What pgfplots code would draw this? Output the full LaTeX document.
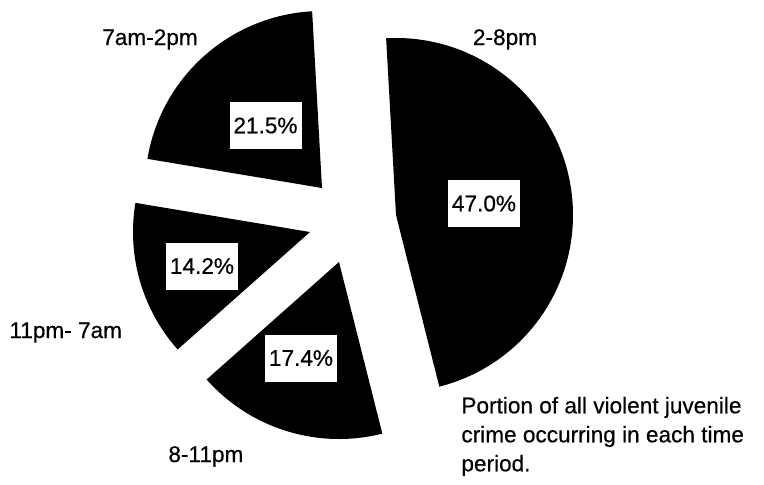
\documentclass[border=0pt]{standalone}
\usepackage{fontspec}
\setmainfont{Liberation Sans}[FakeBold=0.5]
\usepackage{pgfplots}
\usepackage{pgfplotstable}
\pgfplotsset{compat=1.18}

% value = share in percent, ax/ay = tip of the (exploded) slice, in picture units
\pgfplotstableread{
value ax  ay
47.0  396 269
17.4  339 222
14.2  310 252
21.5  322 296
}\piedata

\newcommand{\lbl}{\fontsize{11.3}{14.5}\selectfont}

\begin{document}
\begin{tikzpicture}
\begin{axis}[
    scale only axis,
    width=382pt, height=242pt,
    xmin=0, xmax=764, ymin=0, ymax=484,
    hide axis,
    clip=false,
]
\path (axis cs:0,0) rectangle (axis cs:764,484);

% slices, clockwise from just left of 12 o'clock
\def\sa{93.2}
\pgfplotsforeachungrouped \i in {0,...,3}{%
    \pgfplotstablegetelem{\i}{value}\of\piedata \let\v\pgfplotsretval
    \pgfplotstablegetelem{\i}{ax}\of\piedata \let\ax\pgfplotsretval
    \pgfplotstablegetelem{\i}{ay}\of\piedata \let\ay\pgfplotsretval
    \pgfmathsetmacro{\ea}{\sa-\v/100.1*360}
    \edef\cmd{\noexpand\fill[black] (axis cs:\ax,\ay) -- ++(\sa:88.5pt)
        arc[start angle=\sa, end angle=\ea, radius=88.5pt] -- cycle;}
    \cmd
    \let\sa\ea
}

% value boxes
\tikzset{pct/.style={fill=white, inner sep=0pt, minimum width=36pt,
    minimum height=23.5pt, font=\lbl}}
\node[pct] at (axis cs:484,280.5) {47.0\%};
\node[pct] at (axis cs:265.5,358.5) {21.5\%};
\node[pct] at (axis cs:202,218) {14.2\%};
\node[pct] at (axis cs:301,126) {17.4\%};

% slice names
\node[anchor=base, inner sep=0pt, font=\lbl] at (axis cs:150,439) {7am-2pm};
\node[anchor=base, inner sep=0pt, font=\lbl] at (axis cs:505,439) {2-8pm};
\node[anchor=base west, inner sep=0pt, font=\lbl] at (axis cs:9,146) {11pm- 7am};
\node[anchor=base west, inner sep=0pt, font=\lbl] at (axis cs:168,22) {8-11pm};

\node[anchor=north west, align=left, inner sep=0pt, font=\lbl]
    at (axis cs:461,87.5) {Portion of all violent juvenile\\crime occurring in each time\\period.};
\end{axis}
\end{tikzpicture}
\end{document}
